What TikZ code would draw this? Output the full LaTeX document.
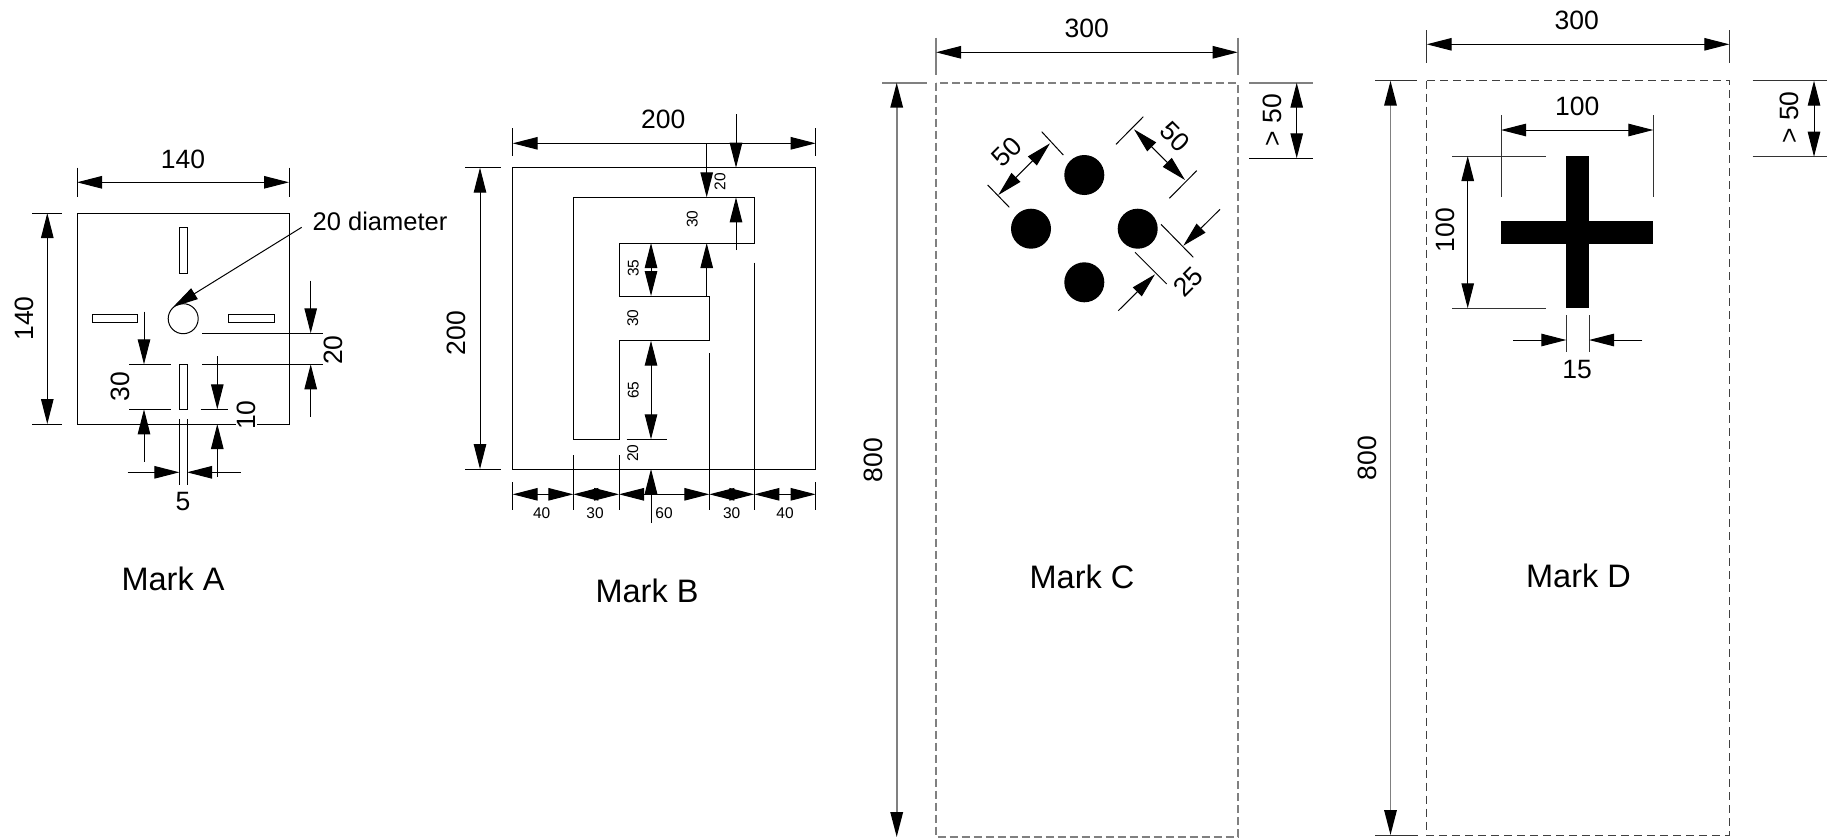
\documentclass[tikz,border=0pt]{standalone}
\usepackage{fontspec}
\setmainfont{Liberation Sans}
\usetikzlibrary{arrows.meta}
\begin{document}
\begin{tikzpicture}[x=1pt,y=-1pt,line width=1pt,
  >={Triangle[length=25pt,width=12.5pt]},
  dimtxt/.style={font=\fontsize{26.5}{31}\selectfont,inner sep=1pt},
  smtxt/.style={font=\fontsize{15.5}{18}\selectfont,inner sep=1pt},
  marktxt/.style={font=\fontsize{32.5}{38}\selectfont,inner sep=1pt},
  gline/.style={draw=black!50,line width=1.6pt},
  gdarr/.style={draw=black!50,line width=1.6pt,
     {Triangle[length=25pt,width=12.5pt,color=black]}-{Triangle[length=25pt,width=12.5pt,color=black]}},
  cdash/.style={draw=black!50,line width=1.6pt,dash pattern=on 8pt off 4pt},
  ddash/.style={draw=black!75,line width=1pt,dash pattern=on 8pt off 5pt},
  dext/.style={draw=black!80,line width=1pt}]
\useasboundingbox (0,0) rectangle (1827,839);

% ================= Mark A =================
\draw (77,213) rectangle (289,424);
\draw (179.4,227.3) rectangle (187,273.3);
\draw (179.4,364.3) rectangle (187,409.3);
\draw (92.3,314.3) rectangle (137.3,322.3);
\draw (228.3,314.3) rectangle (274.3,322.3);
\node[draw,circle,minimum size=30pt,inner sep=0pt] (hole) at (183.2,318.7) {};
% 140 top
\draw (77,167.7) -- (77,196.7);
\draw (289,167.7) -- (289,196.7);
\draw[<->] (77,182.3) -- (289,182.3);
\node[dimtxt] (a140t) at (183,159) {140};
% 140 left
\draw (32,213) -- (62,213);
\draw (32,424) -- (62,424);
\draw[<->] (47.3,213) -- (47.3,424);
\node[dimtxt,rotate=90] (a140l) at (24,318.5) {140};
% 20 diameter
\node[dimtxt,font=\fontsize{25.5}{30}\selectfont] (diam) at (380,221.7) {20 diameter};
\coordinate (diamlead) at (301.7,227.3);
\draw[->] (diamlead) -- (hole.130);
% 20
\draw (202,333.3) -- (323,333.3);
\draw (202,364.3) -- (323,364.3);
\draw[->] (310.7,280.7) -- (310.7,333.3);
\draw[->] (310.7,416.7) -- (310.7,364.3);
\node[dimtxt,rotate=90] (a20) at (333,350) {20};
% 30
\draw (129,364.3) -- (170.7,364.3);
\draw (129,409.3) -- (170.7,409.3);
\draw[->] (144,311.7) -- (144,364.3);
\draw[->] (144,461.7) -- (144,409.3);
\node[dimtxt,rotate=90] (a30) at (120,386.7) {30};
% 10
\draw (200.7,409.3) -- (228.3,409.3);
\draw[->] (217.3,356) -- (217.3,409.3);
\draw[->] (217.3,476.7) -- (217.3,424);
\node[dimtxt,rotate=90,fill=white] (a10) at (246.7,415) {10};
% 5
\draw (179.4,419.3) -- (179.4,485);
\draw (187,419.3) -- (187,485);
\draw[->] (127.7,472.3) -- (179.4,472.3);
\draw[->] (240.7,472.3) -- (187,472.3);
\node[dimtxt] (a5) at (183,502) {5};
\node[marktxt] (markA) at (173,579) {Mark A};

% ================= Mark B =================
\draw (512.7,167.7) rectangle (815.7,469);
\draw (573.3,197.3) -- (754.3,197.3) -- (754.3,243) -- (619,243) -- (619,296)
      -- (709.3,296) -- (709.3,340.7) -- (619,340.7) -- (619,439.3) -- (573.3,439.3) -- cycle;
% 200 top
\draw (512.7,128.3) -- (512.7,156);
\draw (815.7,128.3) -- (815.7,156);
\draw[<->] (512.7,143.3) -- (815.7,143.3);
\node[dimtxt] (b200t) at (663.3,119.3) {200};
% 200 left
\draw (465,167.7) -- (501,167.7);
\draw (465,469) -- (501,469);
\draw[<->] (480,167.7) -- (480,469);
\node[dimtxt,rotate=90] (b200l) at (456,333) {200};
% bottom chain
\draw (512.7,482) -- (512.7,510);
\draw (815.7,482) -- (815.7,510);
\draw (573.3,455) -- (573.3,510);
\draw (619,455) -- (619,510);
\draw (709.3,353) -- (709.3,510);
\draw (754.3,262.7) -- (754.3,510);
\draw[<->] (512.7,494.3) -- (573.3,494.3);
\draw[<->] (573.3,494.3) -- (619,494.3);
\draw[<->] (619,494.3) -- (709.3,494.3);
\draw[<->] (709.3,494.3) -- (754.3,494.3);
\draw[<->] (754.3,494.3) -- (815.7,494.3);
\node[smtxt] (b40a) at (541.7,513.3) {40};
\node[smtxt] (b30a) at (595,513.3) {30};
\node[smtxt] (b60) at (664,513.3) {60};
\node[smtxt] (b30b) at (731.7,513.3) {30};
\node[smtxt] (b40b) at (785,513.3) {40};
% 20 top
\draw[->] (736,114.3) -- (736,167.7);
\draw[->] (736,250) -- (736,197.3);
\node[smtxt,rotate=90] (b20t) at (720,181.7) {20};
% 30 top bar
\draw[->] (706.7,143.3) -- (706.7,197.3);
\draw[->] (706.7,296) -- (706.7,243);
\node[smtxt,rotate=90] (b30t) at (692.3,219.3) {30};
% 35
\draw[<->] (651,243) -- (651,296);
\node[smtxt,rotate=90] (b35) at (633.3,268.3) {35};
% 30 middle
\node[smtxt,rotate=90] (b30m) at (632.7,318.3) {30};
% 65
\draw[<->] (651,340.7) -- (651,439.3);
\node[smtxt,rotate=90] (b65) at (633.3,390) {65};
\draw (626.7,439.3) -- (666.7,439.3);
% 20 bottom
\draw[->] (651,523) -- (651,469);
\node[smtxt,rotate=90] (b20b) at (632.7,453.3) {20};
\node[marktxt] (markB) at (647,591) {Mark B};

% ================= Mark C =================
\draw[cdash] (936,82.7) rectangle (1237.7,837);
% 300
\draw[gline] (936,37.7) -- (936,75);
\draw[gline] (1237.7,37.7) -- (1237.7,75);
\draw[<->] (936,52.3) -- (1237.7,52.3);
\node[dimtxt] (c300) at (1086.7,28.3) {300};
% 800
\draw[gline] (882.3,82.7) -- (926.7,82.7);
\draw[gdarr] (896.7,82.7) -- (896.7,837);
\node[dimtxt,rotate=90] (c800) at (873.6,460) {800};
% > 50
\draw[gline] (1249.3,82.7) -- (1312.7,82.7);
\draw (1249.3,158.3) -- (1312.7,158.3);
\draw[<->] (1296.7,82.7) -- (1296.7,158.3);
\node[dimtxt,rotate=90] (c50r) at (1272.5,120) {> 50};
% dots
\fill (1084.3,175) circle[radius=20];
\fill (1031,228.7) circle[radius=20];
\fill (1137.7,228.7) circle[radius=20];
\fill (1084.3,282.3) circle[radius=20];
% 50 upper left
\draw (987.7,185) -- (1009.3,207.3);
\draw (1041.7,131.7) -- (1063.3,155);
\draw[<->] (998.3,195) -- (1050,143.3);
\node[dimtxt,rotate=45] (c50a) at (1006.7,151.7) {50};
% 50 upper right
\draw (1116,144.3) -- (1143.3,116.7);
\draw (1169.3,198.3) -- (1196.7,170.7);
\draw[<->] (1134,129.3) -- (1185,180);
\node[dimtxt,rotate=-45] (c50b) at (1175,136.7) {50};
% 25
\draw (1161,224.3) -- (1193.3,257.3);
\draw (1135,252.3) -- (1166.7,284);
\draw[->] (1220,209.3) -- (1183.3,245.7);
\draw[->] (1118.3,310.7) -- (1155,274.3);
\node[dimtxt,rotate=45] (c25) at (1188.3,281.7) {25};
\node[marktxt] (markC) at (1082,577) {Mark C};

% ================= Mark D =================
\draw[ddash] (1426.7,80.7) rectangle (1729.3,835);
% 300
\draw[dext] (1426.7,30) -- (1426.7,62.7);
\draw[dext] (1729.3,30) -- (1729.3,62.7);
\draw[<->] (1426.7,44.3) -- (1729.3,44.3);
\node[dimtxt] (d300) at (1576.7,20.7) {300};
% 800
\draw[dext] (1375,80.7) -- (1416.7,80.7);
\draw[dext] (1375,835) -- (1418,835);
\draw[gdarr] (1390.5,80.7) -- (1390.5,835);
\node[dimtxt,rotate=90] (d800) at (1367,458) {800};
% > 50
\draw[dext] (1752.7,80.7) -- (1827,80.7);
\draw[dext] (1752.7,156.7) -- (1827,156.7);
\draw[<->] (1814,80.7) -- (1814,156.7);
\node[dimtxt,rotate=90] (d50r) at (1789.3,117.5) {> 50};
% cross
\fill (1566.3,156) rectangle (1589,308.3);
\fill (1501,221) rectangle (1653.3,244);
% 100 horizontal
\draw[dext] (1501,115) -- (1501,197.3);
\draw[dext] (1653.3,115) -- (1653.3,197.3);
\draw[<->] (1501,130) -- (1653.3,130);
\node[dimtxt] (d100h) at (1577.3,106) {100};
% 100 vertical
\draw[dext] (1452.3,156) -- (1545.7,156);
\draw[dext] (1452.3,308.3) -- (1545.7,308.3);
\draw[<->] (1467.7,156) -- (1467.7,308.3);
\node[dimtxt,rotate=90] (d100v) at (1445,230) {100};
% 15
\draw[dext] (1566.3,315) -- (1566.3,351.7);
\draw[dext] (1589,315) -- (1589,351.7);
\draw[->] (1513.3,340) -- (1566.3,340);
\draw[->] (1642.3,340) -- (1589,340);
\node[dimtxt] (d15) at (1577,369.3) {15};
\node[marktxt] (markD) at (1578.5,576) {Mark D};
\end{tikzpicture}
\end{document}
